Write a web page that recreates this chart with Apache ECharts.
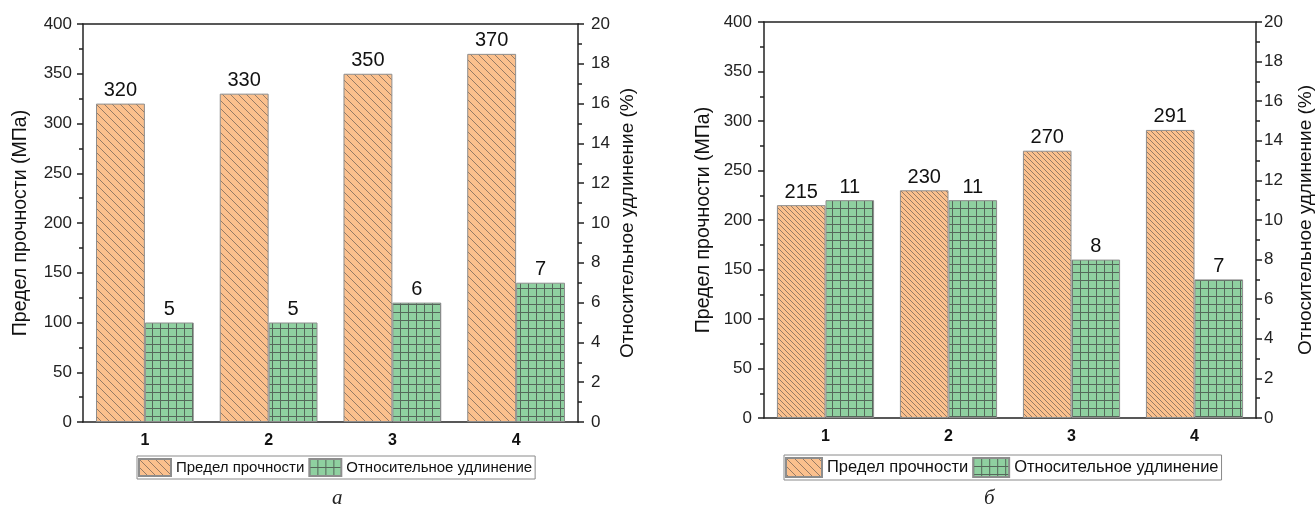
<!DOCTYPE html>
<html><head><meta charset="utf-8">
<script src="https://cdn.jsdelivr.net/npm/echarts@6/dist/echarts.min.js"></script>
<style>html,body{margin:0;padding:0;background:#fff}#c{width:1316px;height:512px}</style>
</head><body><div id="c"></div>
<script>
const categories = ['1', '2', '3', '4'];
const strengthA = [320, 330, 350, 370];
const elongationA = [5, 5, 6, 7];
const strengthB = [215, 230, 270, 291];
const elongationB = [11, 11, 8, 7];
const leftTicks = { min: 0, max: 400, interval: 50 };
const rightTicks = { min: 0, max: 20, interval: 2 };
const seriesNames = ['Предел прочности', 'Относительное удлинение'];
const captions = ['а', 'б'];

function diagPattern(s) {
  const c = document.createElement('canvas'); c.width = s; c.height = s;
  const x = c.getContext('2d');
  x.fillStyle = '#FBC08D'; x.fillRect(0, 0, s, s);
  x.strokeStyle = '#8a7361'; x.lineWidth = 0.9;
  x.beginPath();
  x.moveTo(0, 0); x.lineTo(s, s);
  x.moveTo(-2, s - 2); x.lineTo(2, s + 2);
  x.moveTo(s - 2, -2); x.lineTo(s + 2, 2);
  x.stroke();
  return { image: c, repeat: 'repeat' };
}
function gridPattern(s) {
  const c = document.createElement('canvas'); c.width = s; c.height = s;
  const x = c.getContext('2d');
  x.fillStyle = '#8FD0A0'; x.fillRect(0, 0, s, s);
  x.strokeStyle = '#55675a'; x.lineWidth = 1;
  x.beginPath();
  x.moveTo(0.5, 0); x.lineTo(0.5, s);
  x.moveTo(0, 0.5); x.lineTo(s, 0.5);
  x.stroke();
  return { image: c, repeat: 'repeat' };
}

const FONT = 'Liberation Sans';
const AX = '#222';
const grids = [
  { left: 83, top: 24, width: 495, height: 398 },
  { left: 764, top: 22, width: 493, height: 396 }
];
const panels = [
  { s: strengthA, e: elongationA, diag: diagPattern(8), grid: gridPattern(8), lGap: 52, rGap: 40, lMargin: 11, rMargin: 13, legend: { left: 137, top: 456, fs: 15, iw: 32, ih: 17 } },
  { s: strengthB, e: elongationB, diag: diagPattern(5), grid: gridPattern(8), lGap: 50, rGap: 40, lMargin: 12, rMargin: 8, legend: { left: 784, top: 455, fs: 16.5, iw: 36, ih: 19 } }
];

const xAxis = [], yAxis = [], series = [], legend = [];
panels.forEach((p, g) => {
  const base = xAxis.length;
  xAxis.push({ type: 'category', gridIndex: g, data: categories, position: 'bottom',
    axisLine: { lineStyle: { color: AX, width: 1.5 } },
    axisTick: { alignWithLabel: true, length: 7, lineStyle: { color: AX, width: 1.5 } },
    axisLabel: { fontFamily: FONT, fontSize: 16, fontWeight: 'bold', color: '#111', margin: 11 } });
  xAxis.push({ type: 'category', gridIndex: g, data: categories, position: 'bottom',
    axisLine: { show: false }, axisLabel: { show: false },
    axisTick: { length: 4, lineStyle: { color: AX, width: 1.5 } } });
  xAxis.push({ type: 'category', gridIndex: g, data: categories, position: 'top',
    axisLine: { lineStyle: { color: AX, width: 1.5 } }, axisLabel: { show: false },
    axisTick: { inside: true, alignWithLabel: true, length: 7, lineStyle: { color: AX, width: 1.5 } } });
  xAxis.push({ type: 'category', gridIndex: g, data: categories, position: 'top',
    axisLine: { show: false }, axisLabel: { show: false },
    axisTick: { inside: true, length: 4, lineStyle: { color: AX, width: 1.5 } } });
  const yb = yAxis.length;
  yAxis.push({ type: 'value', gridIndex: g, position: 'left', min: leftTicks.min, max: leftTicks.max, interval: leftTicks.interval,
    name: 'Предел прочности (МПа)', nameLocation: 'middle', nameGap: p.lGap, nameRotate: 90,
    nameTextStyle: { fontFamily: FONT, fontSize: 19.5, color: '#111' },
    axisLine: { show: true, lineStyle: { color: AX, width: 1.5 } },
    axisTick: { show: true, length: 6, lineStyle: { color: AX, width: 1.5 } },
    minorTick: { show: true, splitNumber: 2, length: 4, lineStyle: { color: AX, width: 1.5 } },
    splitLine: { show: false },
    axisLabel: { fontFamily: FONT, fontSize: 17, color: '#222', margin: p.lMargin } });
  yAxis.push({ type: 'value', gridIndex: g, position: 'right', min: rightTicks.min, max: rightTicks.max, interval: rightTicks.interval,
    name: 'Относительное удлинение (%)', nameLocation: 'middle', nameGap: p.rGap, nameRotate: 90,
    nameTextStyle: { fontFamily: FONT, fontSize: 19, color: '#111' },
    axisLine: { show: true, lineStyle: { color: AX, width: 1.5 } },
    axisTick: { show: true, length: 6, lineStyle: { color: AX, width: 1.5 } },
    minorTick: { show: true, splitNumber: 2, length: 4, lineStyle: { color: AX, width: 1.5 } },
    splitLine: { show: false },
    axisLabel: { fontFamily: FONT, fontSize: 17, color: '#222', margin: p.rMargin } });
  const lbl = { show: true, position: 'top', distance: 3, fontFamily: FONT, fontSize: 20, color: '#111' };
  series.push({ type: 'bar', name: seriesNames[0], xAxisIndex: base, yAxisIndex: yb, data: p.s,
    barGap: '0%', barCategoryGap: '21%',
    itemStyle: { color: p.diag, borderColor: '#8d8d8d', borderWidth: 1 }, label: lbl });
  series.push({ type: 'bar', name: seriesNames[1], xAxisIndex: base, yAxisIndex: yb + 1, data: p.e,
    barGap: '0%', barCategoryGap: '21%',
    itemStyle: { color: p.grid, borderColor: '#8d8d8d', borderWidth: 1 }, label: lbl });
  legend.push({ left: p.legend.left, top: p.legend.top, orient: 'horizontal', data: seriesNames,
    icon: 'rect', itemWidth: p.legend.iw, itemHeight: p.legend.ih, itemGap: 4,
    padding: [2, 3, 2, 1], borderColor: '#8a8a8a', borderWidth: 1,
    selectedMode: false,
    textStyle: { fontFamily: FONT, fontSize: p.legend.fs, color: '#111', padding: [0, 0, 0, 0] } });
});

const chart = echarts.init(document.getElementById('c'), null, { renderer: 'canvas' });
chart.setOption({
  animation: false,
  backgroundColor: '#fff',
  grid: grids,
  xAxis, yAxis, series, legend,
  graphic: [
    { type: 'text', left: 332, top: 488, style: { text: captions[0], font: 'italic 21px "Liberation Serif"', fill: '#222' } },
    { type: 'text', left: 984, top: 488, style: { text: captions[1], font: 'italic 21px "Liberation Serif"', fill: '#222' } }
  ]
});
</script></body></html>
